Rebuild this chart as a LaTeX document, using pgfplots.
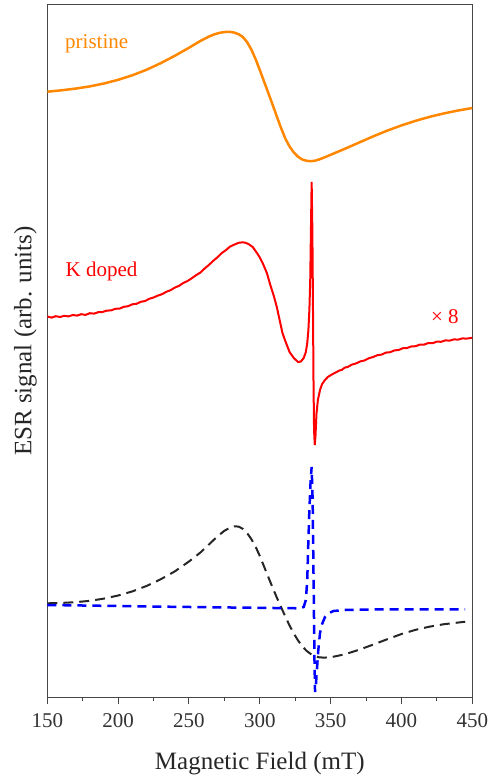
\documentclass[border=0pt]{standalone}
\usepackage{fontspec}
\setmainfont{LiberationSerif}[Extension=.ttf, UprightFont=*-Regular, BoldFont=*-Bold, ItalicFont=*-Italic]
\usepackage{pgfplots}
\pgfplotsset{compat=1.18}
\definecolor{orng}{RGB}{255,135,0}
\definecolor{frame}{RGB}{70,70,70}
\begin{document}
\begin{tikzpicture}
\begin{axis}[
  scale only axis,
  width=425pt, height=692.6pt,
  xmin=150, xmax=450,
  ymin=4.7, ymax=697.3,
  y dir=reverse,
  xtick={150,200,...,450},
  minor x tick num=1,
  ytick=\empty,
  xtick pos=bottom,
  tick align=outside,
  major tick length=7pt,
  minor tick length=4pt,
  every tick/.style={frame, line width=1pt},
  axis line style={frame, line width=1.1pt},
  /pgf/number format/assume math mode=true,
  ticklabel style={font=\fontsize{21}{25}\selectfont, text=black!80},
  xticklabel shift=6pt,
  xlabel={Magnetic Field (mT)},
  ylabel={ESR signal (arb. units)},
  label style={font=\fontsize{25}{30}\selectfont, text=black!85},
  xlabel style={at={(axis cs:300,697.3)}, anchor=base, yshift=-72.5pt},
  ylabel style={xshift=10pt},
  clip=true,
]
% pristine
\addplot[orng, line width=2.5pt] coordinates {
(150,91.7)(160,90.3)(170,88.6)(180,86.4)(190,83.5)(200,79.8)(210,75.3)(220,69.8)(230,63.2)(240,55.8)(250,47.8)(258,41.0)(264,36.6)(268,34.3)(272,32.7)(276,31.9)(279,31.9)(282,32.6)(285,34.2)(288,37.0)(291,42.0)(294,49.5)(297,59.0)(300,70.0)(303,81.5)(306,93.0)(309,104.5)(312,116.5)(315,128.0)(318,138.5)(321,146.5)(324,152.5)(327,156.8)(330,159.5)(333,160.8)(336,161.2)(339,160.7)(342,159.4)(346,157.2)(350,154.8)(355,151.8)(360,148.8)(370,142.6)(380,136.4)(390,130.6)(400,125.4)(410,120.8)(420,116.8)(430,113.4)(440,110.5)(450,108)
};
% K doped
\addplot[red, line width=2pt] coordinates {
(150,316.5)(153,317.6)(156,316.2)(159,317.0)(162,315.8)(165,316.4)(168,315.0)(171,315.6)(174,314.2)(177,314.9)(180,313.2)(183,313.6)(186,312.2)(189,312.0)(192,310.6)(195,310.4)(198,308.8)(201,308.6)(204,306.8)(207,306.2)(210,304.3)(213,303.8)(216,301.8)(219,301.0)(222,298.8)(225,297.5)(228,295.6)(231,294.2)(234,291.8)(237,290.2)(240,287.6)(243,285.8)(246,283.0)(249,281.0)(252,278.2)(255,275.2)(258,272.6)(261,268.6)(264,265.0)(267,261.0)(270,257.4)(273,253.2)(276,250.2)(279,246.6)(282,244.6)(285,242.8)(288,242.3)(290,242.8)(292,244.0)(295,247.0)(298,253)(300,257.5)(302,263)(305,273)(307,283)(310,296.5)(312,307)(314,320)(316,333)(318,341)(321,352)(324,358)(327,362)(329,361.5)(331,358)(332.5,352)(333.5,343)(334.3,330)(335,310)(335.6,280)(336.1,230)(336.6,182)(337.1,230)(337.5,300)(337.9,380)(338.3,430)(338.8,445)(339.3,436)(340,414)(341,400)(342.5,390)(344,384)(346,380)(348,377)(350,375.2)(352,373.6)(354,372.2)(356,370.6)(358,369.8)(360,367.6)(362,367.0)(365,364.6)(368,363.4)(371,361.4)(374,360.4)(377,358.2)(380,357.0)(383,355.2)(386,354.6)(389,352.6)(392,352.2)(395,350.4)(398,350.0)(401,348.2)(404,348.0)(407,346.4)(410,346.2)(413,344.6)(416,344.6)(419,343.0)(422,343.2)(425,341.6)(428,341.8)(431,340.4)(434,340.6)(437,339.4)(440,339.6)(443,338.4)(446,338.6)(450,337.8)
};
% black dashed fit
\addplot[black!85, line width=2pt, dash pattern=on 10pt off 6pt] coordinates {
(150,603.3)(160,602.9)(170,602.2)(180,600.8)(190,598.6)(200,595.5)(210,591.4)(220,586.0)(230,579.3)(240,571.4)(250,561.5)(258,552.6)(264,544.6)(270,536.5)(275,530.8)(279,527.6)(282,526.3)(285,526.6)(288,528.8)(291,533.0)(294,539.0)(297,546.5)(300,556)(303,566.5)(306,577)(309,587.5)(312,597.5)(315,607)(318,616.5)(321,625.5)(324,633.5)(327,640.5)(330,646.3)(333,650.8)(336,654.0)(339,656.2)(342,657.3)(345,657.6)(348,657.4)(352,656.7)(360,654.3)(370,649.8)(380,644.6)(390,639.2)(400,634.0)(410,629.8)(420,626.6)(430,624.2)(445,621.7)
};
% blue dashed fit
\addplot[blue, line width=2.5pt, dash pattern=on 9pt off 6pt] coordinates {
(150,605)(200,606)(234,606.7)(280,607.5)(328.3,608.3)(331,607)(332.5,600)(333.5,580)(334.2,545)(335,510)(335.9,480)(336.6,467)(337.3,500)(337.8,560)(338.2,610)(338.6,660)(339,692)(339.6,685)(340.3,670)(341.3,650)(342.5,633)(344,624)(346,617)(349,613)(352,611)(360,610)(376,609.5)(445,609.3)
};
\node[anchor=base west, text=orng, font=\fontsize{21}{25}\selectfont, inner sep=0pt] at (axis cs:162.5,48) {pristine};
\node[anchor=base west, text=red, font=\fontsize{21}{25}\selectfont, inner sep=0pt] at (axis cs:162.8,276) {K doped};
\node[anchor=base west, text=red, font=\fontsize{21}{25}\selectfont, inner sep=0pt] at (axis cs:420.8,323) {× 8};
\end{axis}
\pgfresetboundingbox
\path ([xshift=-47.3pt,yshift=-78.7pt]current axis.south west) rectangle ([xshift=22.7pt,yshift=4.7pt]current axis.north east);
\end{tikzpicture}
\end{document}
